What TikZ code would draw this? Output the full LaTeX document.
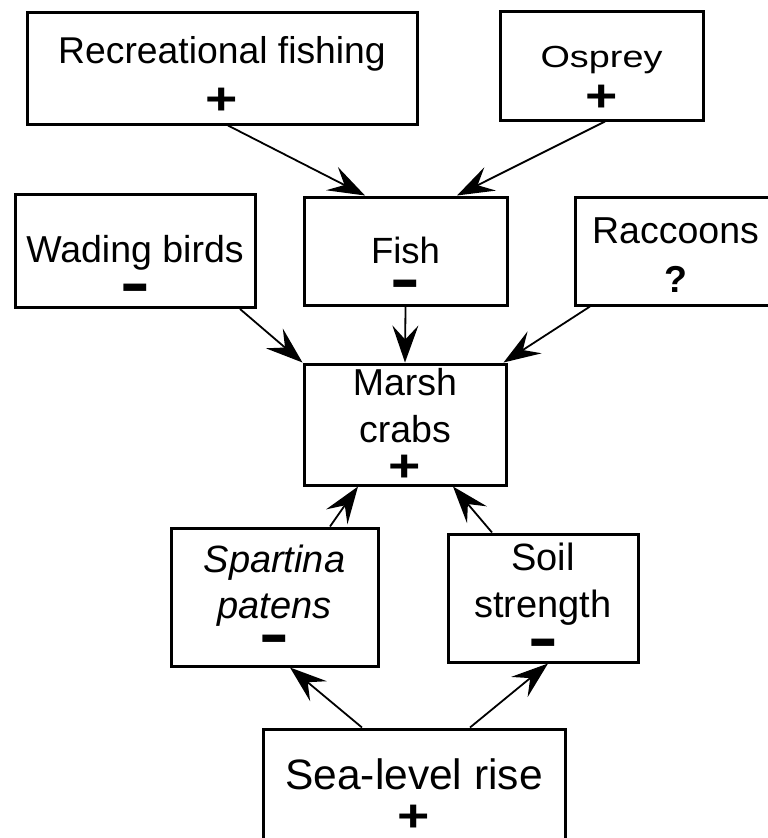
\documentclass[tikz,border=0pt]{standalone}
\usepackage{fontspec}
\usepackage{graphicx}
\setmainfont{Liberation Sans}
\usetikzlibrary{arrows.meta,positioning}
\tikzset{>={Stealth[length=37pt,width=26pt,inset=14pt]}}
\newcommand\plussign{{\fontsize{45}{45}\selectfont\bfseries\scalebox{1.23}[1]{+}}}
\newcommand\minussign{{\fontsize{46}{46}\selectfont\bfseries\scalebox{1}[1.6]{–}}}
\newcommand\lift[1]{\rule{0pt}{#1pt}}

\begin{document}
\begin{tikzpicture}[x=1pt,y=-1pt,
    box/.style={draw,line width=3pt,align=center,inner sep=0pt},
    link/.style={line width=1.8pt}]
    \useasboundingbox (0,0) rectangle (768,838);

    \node[box,minimum width=390,minimum height=112,font=\fontsize{37.3}{51.2}\selectfont] (rec) at (222,68) {\lift{41.2}Recreational fishing\\\plussign};
    \node[box,minimum width=203,minimum height=109,font=\fontsize{30.5}{44.2}\selectfont] (osp) at (601.5,65.5) {\lift{47.2}\scalebox{1.24}[1]{Osprey}\\\plussign};
    \node[box,minimum width=240,minimum height=108,font=\fontsize{37.5}{45.5}\selectfont] (wad) at (135,251) {\lift{67.5}Wading birds\\\minussign};
    \node[box,minimum width=203,minimum height=108,font=\fontsize{36.5}{40}\selectfont] (fish) at (405.5,251) {\lift{64}Fish\\\minussign};
    \node[box,minimum width=200,minimum height=108,font=\fontsize{37.5}{49}\selectfont] (rac) at (675.5,251) {\lift{33}Raccoons\\\textbf{?}};
    \node[box,minimum width=202,minimum height=121,font=\fontsize{37.5}{47}\selectfont] (marsh) at (405,424.5) {\lift{27.2}Marsh\\crabs\\[-7.8pt]\plussign};
    \node[box,minimum width=207,minimum height=138,font=\fontsize{38}{46}\selectfont] (spa) at (274.5,597) {\lift{36}\textit{Spartina}\\\textit{patens}\\[-6pt]\minussign};
    \node[box,minimum width=190,minimum height=128,font=\fontsize{38}{47}\selectfont] (soil) at (543,598) {\lift{36}Soil\\strength\\[-2pt]\minussign};
    \node[box,minimum width=302,minimum height=121,font=\fontsize{42.5}{41.5}\selectfont] (sea) at (414,789.5) {\lift{41.5}Sea-level rise\\\plussign};

    \path[->,link] ([xshift=6]rec.south) edge ([xshift=-40.5]fish.north);
    \path[->,link] ([xshift=3.5]osp.south) edge ([xshift=51.5]fish.north);
    \path[->,link] ([xshift=105]wad.south) edge (marsh.north west);
    \path[->,link] (fish.south) edge (marsh.north);
    \path[->,link] ([xshift=-85.5]rac.south) edge ([xshift=-4]marsh.north east);
    \path[->,link] ([xshift=55.5]spa.north) edge ([xshift=-47]marsh.south);
    \path[->,link] ([xshift=-51]soil.north) edge ([xshift=48]marsh.south);
    \path[->,link] ([xshift=-52]sea.north) edge ([xshift=15.5]spa.south);
    \path[->,link] ([xshift=56]sea.north) edge ([xshift=5]soil.south);
\end{tikzpicture}
\end{document}
